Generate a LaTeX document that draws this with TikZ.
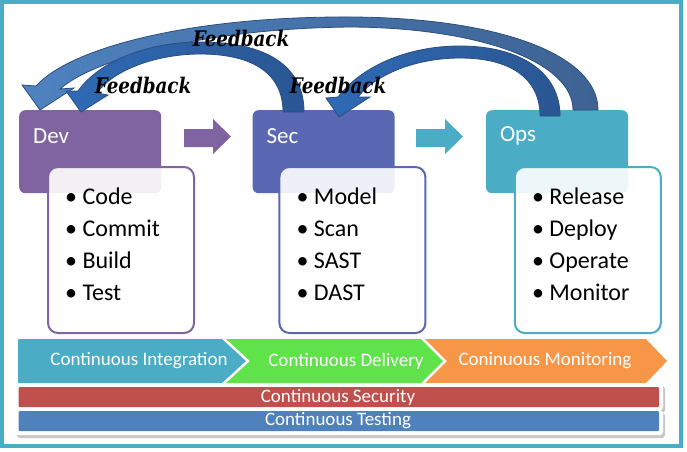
\documentclass[tikz,border=0pt]{standalone}
\usepackage{fontspec}
\setmainfont{Carlito}
\newfontfamily\fbfont[FakeStretch=0.85]{DejaVu Serif}
\usetikzlibrary{positioning}
\definecolor{devcol}{HTML}{8064A2}
\definecolor{seccol}{HTML}{5A67B2}
\definecolor{opscol}{HTML}{4BACC6}
\definecolor{cicol}{HTML}{4BACC6}
\definecolor{cdcol}{HTML}{60E24A}
\definecolor{cmcol}{HTML}{F79646}
\definecolor{cscol}{HTML}{C0504D}
\definecolor{ctcol}{HTML}{4F81BD}
\definecolor{fbline}{HTML}{2B4E7E}
\definecolor{fbAleft}{HTML}{4F82C0}
\definecolor{fbAright}{HTML}{3D6393}
\definecolor{fbBleft}{HTML}{2F6AB5}
\definecolor{fbBright}{HTML}{2A5692}
\tikzset{
	catbox/.style={rounded corners=6pt, minimum width=142pt, minimum height=83pt, anchor=north west, inner sep=0pt},
	listbox/.style={rounded corners=10pt, line width=2pt, fill=white, fill opacity=0.9, minimum width=146pt, minimum height=166pt, anchor=north west, inner sep=0pt},
	cattext/.style={text=white, font=\fontsize{23}{28}\selectfont, anchor=west, inner sep=0pt},
	listtext/.style={font=\fontsize{24}{32}\selectfont, align=left, anchor=north west, inner sep=0pt},
	fbtext/.style={font=\fbfont\bfseries\itshape\fontsize{21.5}{26}\selectfont, inner sep=0pt},
	bartext/.style={text=white, font=\fontsize{19}{22}\selectfont, inner sep=0pt},
	fbarrow/.style={draw=fbline, line width=0.8pt},
}

\begin{document}
\begin{tikzpicture}[x=1pt, y=-1pt]
	%%%%% START %%%%%
	\useasboundingbox (0,0) rectangle (687,451);
	\fill[white] (0,0) rectangle (687,451);
	\draw[opscol, line width=4pt] (2,2) rectangle (681,446);
	
	% stage boxes
	\node[catbox, fill=devcol] (dev) at (19,110) {};
	\node[catbox, fill=seccol, right=91pt of dev] (sec) {};
	\node[catbox, fill=opscol, right=91pt of sec] (ops) {};
	
	\node[cattext] (devt) at ([shift={(14,26)}]dev.north west) {Dev};
	\node[cattext] (sect) at ([shift={(14,26)}]sec.north west) {Sec};
	\node[cattext] (opst) at ([shift={(14,26)}]ops.north west) {Ops};
	
	% lists
	\node[listbox, draw=devcol] (devl) at ([shift={(28,56)}]dev.north west) {};
	\node[listbox, draw=seccol] (secl) at ([shift={(26,56)}]sec.north west) {};
	\node[listbox, draw=opscol] (opsl) at ([shift={(28,56)}]ops.north west) {};
	
	\node[listtext] (devi) at ([shift={(18,22)}]devl.north west) {\textbullet\ Code\\\textbullet\ Commit\\\textbullet\ Build\\\textbullet\ Test};
	\node[listtext] (seci) at ([shift={(18,22)}]secl.north west) {\textbullet\ Model\\\textbullet\ Scan\\\textbullet\ SAST\\\textbullet\ DAST};
	\node[listtext] (opsi) at ([shift={(18,22)}]opsl.north west) {\textbullet\ Release\\\textbullet\ Deploy\\\textbullet\ Operate\\\textbullet\ Monitor};
	
	% arrows between stages
	\fill[devcol] (184,129) -- (213,129) -- (213,119) -- (231,136.5) -- (213,154) -- (213,147) -- (184,147) -- cycle;
	\fill[opscol] (416,129) -- (445,129) -- (445,119) -- (463,136.5) -- (445,154) -- (445,147) -- (416,147) -- cycle;
	
	% feedback arrows
	\shade[fbarrow, left color=fbAleft, right color=fbAright]
		(598,110) .. controls (598,55) and (500,18) .. (352,17)
		.. controls (190,16) and (70,48) .. (36,86)
		-- (22,85) -- (40,110) -- (74,88) -- (60,89)
		.. controls (95,58) and (210,28) .. (352,27)
		.. controls (480,28) and (573,62) .. (573,110) -- cycle;
	\shade[fbarrow, left color=fbBleft, right color=fbBright]
		(304,112) .. controls (304,65) and (265,42) .. (200,42)
		.. controls (150,42) and (100,60) .. (78,91)
		-- (66,91) -- (81,112) -- (108,95) -- (97,93)
		.. controls (115,68) and (160,54) .. (200,54)
		.. controls (255,54) and (283,75) .. (283,112) -- cycle;
	\shade[fbarrow, left color=fbBleft, right color=fbBright]
		(560,116) .. controls (560,72) and (520,46) .. (460,46)
		.. controls (405,46) and (360,68) .. (338,97)
		-- (326,98) -- (339,117) -- (370,97) -- (358,97)
		.. controls (375,75) and (415,58) .. (460,58)
		.. controls (510,58) and (540,78) .. (540,116) -- cycle;
	
	\node[fbtext] (fbtop) at (241,38) {Feedback};
	\node[fbtext] (fbleft) at (143,85) {Feedback};
	\node[fbtext] (fbright) at (338,85) {Feedback};
	
	% continuous chevrons
	\fill[cicol] (18,339) -- (222,339) -- (246,361) -- (222,383) -- (18,383) -- cycle;
	\fill[cdcol] (226,339) -- (421,339) -- (443,361) -- (421,383) -- (226,383) -- (250,361) -- cycle;
	\fill[cmcol] (425,339) -- (646,339) -- (667,361) -- (646,383) -- (425,383) -- (447,361) -- cycle;
	\node[bartext] (ci) at (139,361) {Continuous Integration};
	\node[bartext] (cd) at (346,361) {Continuous Delivery};
	\node[bartext] (cm) at (545,361) {Coninuous Monitoring};
	
	% security and testing bars
	\fill[black!22, rounded corners=3pt] (17,386) rectangle (665,413);
	\fill[white, rounded corners=3pt] (15,383) rectangle (663,410);
	\fill[black!22, rounded corners=3pt] (17,413) rectangle (665,438);
	\fill[white, rounded corners=3pt] (15,410) rectangle (663,435);
	\fill[cscol, rounded corners=1pt] (18.5,387) rectangle (659,407);
	\fill[ctcol, rounded corners=1pt] (18.5,411) rectangle (659,431);
	\node[bartext] (cs) at (338,397) {Continuous Security};
	\node[bartext] (ct) at (338,421) {Continuous Testing};
	%%%%% END %%%%%
\end{tikzpicture}
\end{document}
